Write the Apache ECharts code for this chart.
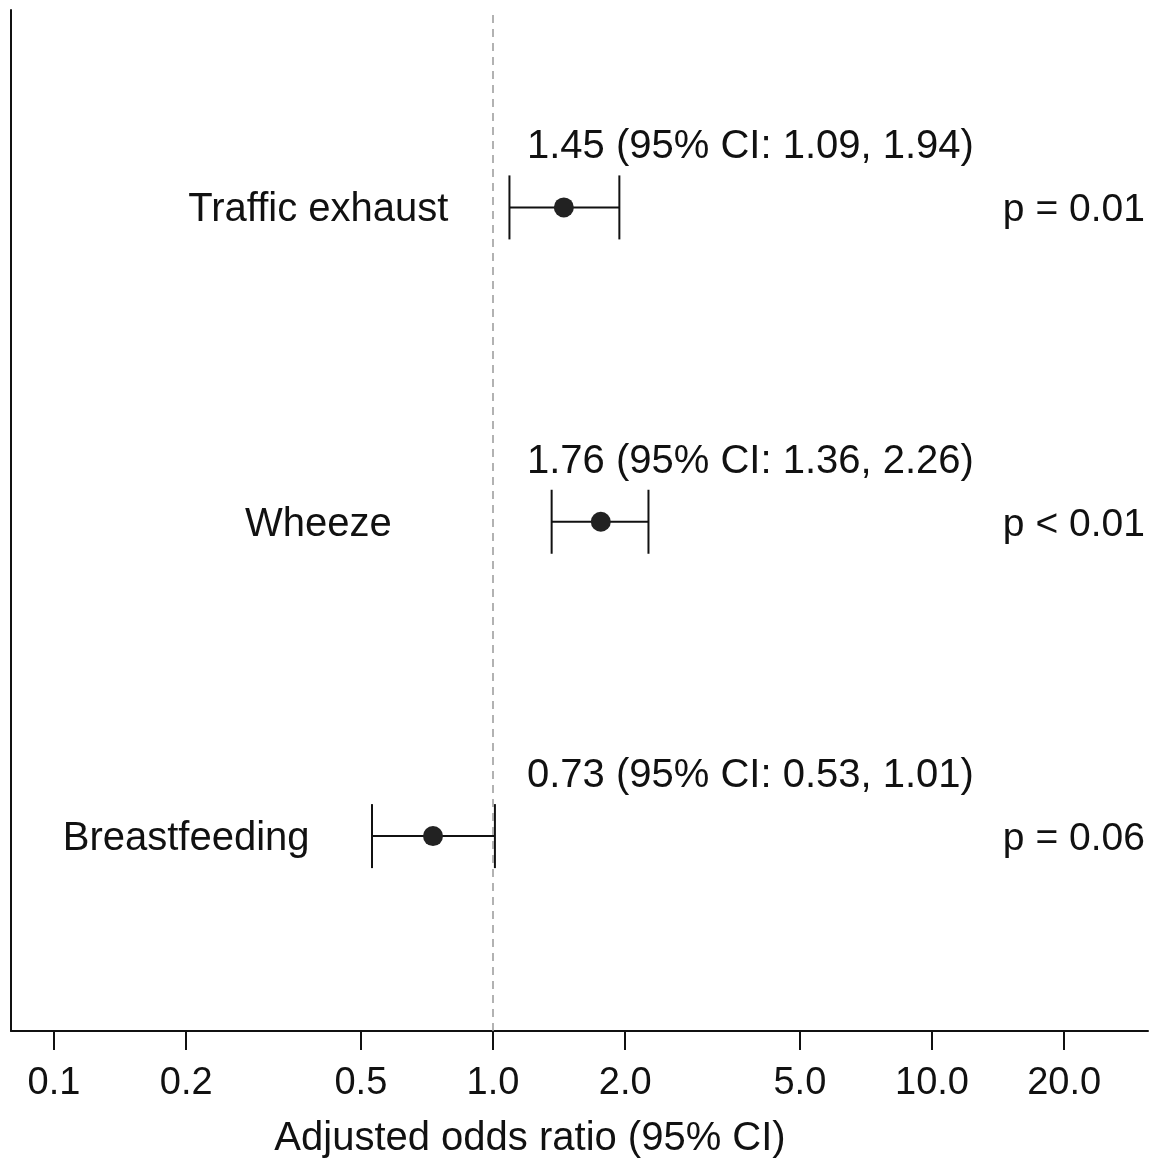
<!DOCTYPE html>
<html>
<head>
<meta charset="utf-8">
<title>Adjusted odds ratios</title>
<style>
  html, body { width: 100%; height: 100%; margin: 0; background: #fff; }
  #main { width: 1160px; height: 1163px; }
</style>
</head>
<body>
<div id="main"></div>
<script src="https://cdn.jsdelivr.net/npm/echarts@6/dist/echarts.min.js"></script>
<script>
var factors = ['Traffic exhaust', 'Wheeze', 'Breastfeeding'];
var oddsRatio = [1.45, 1.76, 0.73];
var ciLower = [1.09, 1.36, 0.53];
var ciUpper = [1.94, 2.26, 1.01];
var pLabels = ['p = 0.01', 'p < 0.01', 'p = 0.06'];
var tickValues = [0.1, 0.2, 0.5, 1, 2, 5, 10, 20];
var tickLabels = ['0.1', '0.2', '0.5', '1.0', '2.0', '5.0', '10.0', '20.0'];

// layout only: where the row names and side texts sit, in odds-ratio units
var nameCenter = [0.4, 0.4, 0.2];
var ciTextLeft = 1.195;
var pTextLeft = 14.5;

var log = Math.log10;
var font = "'Liberation Sans', Arial, Helvetica, sans-serif";
var ink = '#111';

var chart = echarts.init(document.getElementById('main'));

var rows = factors.map(function (f, i) {
  return [i, factors.length - i, log(ciLower[i]), log(ciUpper[i])];
});
var points = factors.map(function (f, i) {
  return [log(oddsRatio[i]), factors.length - i];
});

function txt(s, x, y, align, size) {
  return {
    type: 'text',
    style: {
      text: s, x: x, y: y,
      align: align, textAlign: align,
      verticalAlign: 'middle', textVerticalAlign: 'middle',
      fontSize: size, fontFamily: font, fill: ink
    }
  };
}

function renderRow(params, api) {
  var i = api.value(0);
  var y = api.value(1);
  var lo = api.coord([api.value(2), y]);
  var hi = api.coord([api.value(3), y]);
  var cap = 32;
  var ls = { stroke: ink, lineWidth: 2 };
  var ci = oddsRatio[i].toFixed(2) + ' (95% CI: ' + ciLower[i].toFixed(2) + ', ' + ciUpper[i].toFixed(2) + ')';
  return {
    type: 'group',
    children: [
      { type: 'line', shape: { x1: lo[0], y1: lo[1], x2: hi[0], y2: hi[1] }, style: ls },
      { type: 'line', shape: { x1: lo[0], y1: lo[1] - cap, x2: lo[0], y2: lo[1] + cap }, style: ls },
      { type: 'line', shape: { x1: hi[0], y1: hi[1] - cap, x2: hi[0], y2: hi[1] + cap }, style: ls },
      txt(factors[i], api.coord([log(nameCenter[i]), y])[0], lo[1] + 3, 'center', 40),
      txt(ci, api.coord([log(ciTextLeft), y])[0], lo[1] - 60, 'left', 40),
      txt(pLabels[i], api.coord([log(pTextLeft), y])[0], lo[1] + 3, 'left', 39)
    ]
  };
}

var option = {
  backgroundColor: '#fff',
  animation: false,
  grid: { left: 11, right: 12, top: 10, bottom: 132 },
  xAxis: {
    type: 'value',
    min: -1.098,
    max: 1.492,
    splitLine: { show: false },
    axisLine: { show: true, onZero: false, lineStyle: { color: ink, width: 2 } },
    axisTick: { show: true, length: 19, customValues: tickValues.map(log), lineStyle: { color: ink, width: 2 } },
    axisLabel: {
      customValues: tickValues.map(log),
      margin: 34,
      fontSize: 38,
      fontFamily: font,
      color: ink,
      formatter: function (v) {
        var best = 0;
        tickValues.forEach(function (t, k) {
          if (Math.abs(log(t) - v) < Math.abs(log(tickValues[best]) - v)) best = k;
        });
        return tickLabels[best];
      }
    }
  },
  yAxis: {
    type: 'value',
    min: 0.38,
    max: 3.628,
    splitLine: { show: false },
    axisLine: { show: true, onZero: false, lineStyle: { color: ink, width: 2 } },
    axisTick: { show: false },
    axisLabel: { show: false }
  },
  graphic: [{
    type: 'text',
    style: {
      text: 'Adjusted odds ratio (95% CI)',
      x: 530, y: 1139,
      align: 'center', textAlign: 'center',
      verticalAlign: 'middle', textVerticalAlign: 'middle',
      fontSize: 40, fontFamily: font, fill: ink
    }
  }],
  series: [
    {
      type: 'custom',
      clip: false,
      silent: true,
      renderItem: renderRow,
      data: rows,
      z: 2
    },
    {
      type: 'scatter',
      symbol: 'circle',
      symbolSize: 20,
      itemStyle: { color: '#222', opacity: 1 },
      data: points,
      z: 3,
      markLine: {
        silent: true,
        symbol: 'none',
        label: { show: false },
        lineStyle: { color: '#999', type: [8, 6], width: 1.5 },
        data: [{ xAxis: 0 }]
      }
    }
  ]
};

chart.setOption(option);
</script>
</body>
</html>
